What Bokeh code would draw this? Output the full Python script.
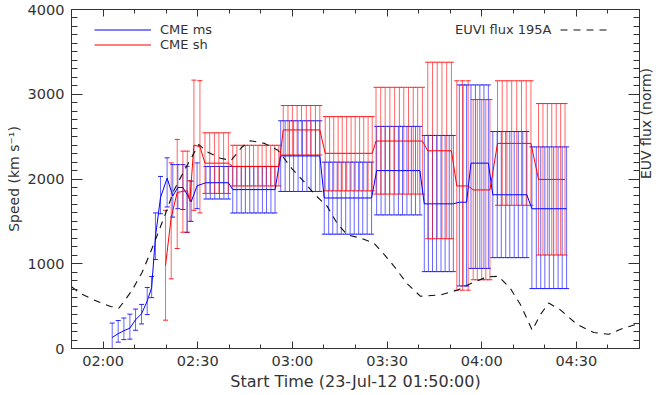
import math
from bokeh.plotting import figure
from bokeh.models import (Range1d, LinearAxis, FixedTicker, SingleIntervalTicker,
                          Whisker, TeeHead, ColumnDataSource, Legend, LegendItem, Label)
from bokeh.embed import file_html
from bokeh.resources import INLINE

# ---------------- data (time in minutes after 23-Jul-12 01:50:00) ----------------
tick_times = [10, 40, 70, 100, 130, 160]
tick_labels = ["02:00", "02:30", "03:00", "03:30", "04:00", "04:30"]
minor_times = [0, 20, 30, 50, 60, 80, 90, 110, 120, 140, 150, 170, 180]
flux_ticks = [0, 0.25, 0.5, 0.75, 1.0]

# CME ms (blue) - individual early measurements
ms_early_t = [12.9, 14.8, 16.6, 18.5, 20.3, 22.2, 24.0, 25.4, 26.6, 28.2, 30.3, 32.1, 33.7, 35.3, 36.6, 37.9, 39.8]
ms_early_v = [130, 175, 210, 240, 340, 410, 560, 720, 1320, 1780, 2010, 1800, 1900, 1900, 1820, 1730, 1920]
ms_early_lo = [-40, 75, 105, 110, 215, 290, 400, 600, 1050, 1590, 1670, 1550, 1650, 1640, 1370, 1500, 1650]
ms_early_hi = [300, 330, 360, 405, 465, 520, 720, 850, 1600, 2030, 2250, 2170, 2170, 2170, 2150, 1975, 2190]

# CME ms (blue) - plateau segments: sample times, value, lower, upper
ms_seg_t = [
    [42.6, 44.0, 45.4, 46.9, 48.3, 49.7],
    [51.1, 52.4, 53.8, 55.1, 56.5, 57.8, 59.1, 60.5, 61.8, 63.2, 64.5],
    [66.3, 67.7, 69.1, 70.4, 71.8, 73.2, 74.6, 75.9, 77.3, 78.7],
    [80.1, 81.5, 82.8, 84.2, 85.5, 86.9, 88.3, 89.6, 91.0, 92.3, 93.7, 95.1],
    [96.7, 98.1, 99.4, 100.8, 102.2, 103.6, 104.9, 106.3, 107.7, 109.0, 110.4],
    [111.8, 113.1, 114.4, 115.7, 117.1, 118.4, 119.7, 121.0],
    [122.9, 124.1, 125.2],
    [126.6, 128.0, 129.4, 130.7, 132.1],
    [133.5, 134.9, 136.2, 137.6, 138.9, 140.3, 141.6, 143.0, 144.3],
    [145.9, 147.3, 148.7, 150.0, 151.4, 152.8, 154.2, 155.5, 156.9],
]
ms_seg_v = [1956, 1875, 2272, 1776, 2099, 1707, 1726, 2187, 1814, 1649]
ms_seg_lo = [1764, 1599, 1853, 1349, 1576, 907, 738, 945, 1072, 707]
ms_seg_hi = [2148, 2148, 2687, 2199, 2621, 2514, 3110, 3110, 2560, 2379]

# CME sh (red) - individual early measurements
sh_early_t = [29.8, 31.6, 33.5, 35.3, 36.7, 37.5, 38.8, 40.7]
sh_early_v = [980, 1550, 1840, 1855, 1860, 1740, 2400, 2380]
sh_early_lo = [334, 822, 1180, 1372, 1372, 1500, 1630, 1600]
sh_early_hi = [1630, 2190, 2467, 2329, 2329, 1980, 3167, 3160]

# CME sh (red) - plateau segments
sh_seg_t = [
    [42.3, 43.8, 45.3, 46.7, 48.2, 49.7],
    [51.1, 52.4, 53.8, 55.1, 56.4, 57.7, 59.1, 60.4, 61.7, 63.1, 64.4, 65.7],
    [67.1, 68.6, 70.0, 71.5, 72.9, 74.4, 75.8, 77.3, 78.7],
    [80.4, 81.8, 83.1, 84.5, 85.8, 87.2, 88.6, 89.9, 91.3, 92.6, 94.0, 95.3],
    [96.5, 98.0, 99.4, 100.9, 102.4, 103.9, 105.3, 106.8, 108.3, 109.7, 111.2],
    [112.9, 114.4, 115.9, 117.4, 118.9, 120.4],
    [122.1, 123.9, 125.7],
    [127.3, 128.6, 130.0, 131.3, 132.6],
    [135.0, 136.5, 138.0, 139.5, 141.1, 142.6, 144.1, 145.6],
    [148.0, 149.4, 150.8, 152.2, 153.6, 155.0, 156.4],
]
sh_seg_v = [2187, 2148, 2579, 2303, 2448, 2333, 1918, 1871, 2420, 1995]
sh_seg_lo = [1830, 1918, 2283, 1860, 1822, 1295, 688, 811, 1690, 1103]
sh_seg_hi = [2545, 2398, 2867, 2736, 3082, 3378, 3159, 2937, 3159, 2890]

# EUVI 195A flux (normalised)
euv_t = [0.0, 2.9, 7.1, 12.4, 15.0, 16.6, 19.2, 22.4, 25.0, 27.2, 29.8, 32.4, 35.6, 38.2,
         40.3, 43.0, 47.2, 50.6, 53.9, 56.7, 61.2, 65.4, 69.9, 73.6, 77.0, 81.0, 84.2,
         87.4, 91.6, 95.8, 98.4, 102.1, 106.4, 110.6, 116.9, 122.2, 127.5, 131.7, 135.3,
         139.1, 142.3, 146.0, 148.6, 151.2, 154.9, 160.2, 165.5, 170.3, 174.0, 179.5]
euv_v = [0.182, 0.162, 0.143, 0.124, 0.119, 0.138, 0.172, 0.225, 0.283, 0.335, 0.398, 0.465,
         0.523, 0.566, 0.602, 0.580, 0.561, 0.555, 0.593, 0.613, 0.605, 0.585, 0.530, 0.493,
         0.455, 0.420, 0.369, 0.335, 0.326, 0.311, 0.285, 0.244, 0.191, 0.154, 0.158, 0.172,
         0.196, 0.211, 0.213, 0.177, 0.129, 0.054, 0.100, 0.134, 0.114, 0.071, 0.047, 0.042,
         0.057, 0.073]


def build(early_t, early_v, early_lo, early_hi, seg_t, seg_v, seg_lo, seg_hi):
    t, v, lo, hi = list(early_t), list(early_v), list(early_lo), list(early_hi)
    for ts, sv, sl, su in zip(seg_t, seg_v, seg_lo, seg_hi):
        t += ts
        v += [sv] * len(ts)
        lo += [sl] * len(ts)
        hi += [su] * len(ts)
    return ColumnDataSource(dict(t=t, v=v, lo=lo, hi=hi))


ms_src = build(ms_early_t, ms_early_v, ms_early_lo, ms_early_hi, ms_seg_t, ms_seg_v, ms_seg_lo, ms_seg_hi)
sh_src = build(sh_early_t, sh_early_v, sh_early_lo, sh_early_hi, sh_seg_t, sh_seg_v, sh_seg_lo, sh_seg_hi)

FONT = "DejaVu Sans"
TXT = "#333333"
BLUE = "#0000ff"
RED = "#ff0000"

W, H = 665, 395
BL, BR, BT, BB = 71, 26, 9, 47
FW, FH = W - BL - BR, H - BT - BB

p = figure(width=W, height=H, output_backend="svg", toolbar_location=None,
           x_range=Range1d(0, 180), y_range=Range1d(0, 4000),
           min_border_left=BL, min_border_right=BR, min_border_top=BT, min_border_bottom=BB,
           x_axis_label="Start Time (23-Jul-12 01:50:00)", y_axis_label="Speed (km s\u207b\u00b9)")
p.extra_y_ranges = {"euv": Range1d(0, 1)}
p.grid.visible = False
p.outline_line_color = None
p.background_fill_color = "white"
p.border_fill_color = "white"


def style(ax, tin, mtin):
    ax.major_tick_in = tin
    ax.major_tick_out = 0
    ax.minor_tick_in = mtin
    ax.minor_tick_out = 0
    ax.axis_line_color = TXT
    ax.major_tick_line_color = TXT
    ax.minor_tick_line_color = TXT
    ax.major_label_text_font = FONT
    ax.major_label_text_font_size = "14.5px"
    ax.major_label_text_color = TXT
    ax.axis_label_text_font = FONT
    ax.axis_label_text_font_size = "14px"
    ax.axis_label_text_font_style = "normal"
    ax.axis_label_text_color = TXT


xa = p.xaxis[0]
xa.ticker = FixedTicker(ticks=tick_times, minor_ticks=minor_times)
xa.major_label_overrides = {k: s for k, s in zip(tick_times, tick_labels)}
style(xa, 7, 4)
xa.axis_label_text_font_size = "16px"
xa.major_label_standoff = 4
xa.axis_label_standoff = 0

ya = p.yaxis[0]
ya.ticker = SingleIntervalTicker(interval=1000, num_minor_ticks=10)
style(ya, 11, 6)
ya.major_label_standoff = 7
ya.axis_label_standoff = 3

top = LinearAxis(ticker=FixedTicker(ticks=tick_times, minor_ticks=minor_times))
style(top, 7, 4)
top.major_label_overrides = {k: "" for k in tick_times}
top.major_label_standoff = 0
p.add_layout(top, "above")

right = LinearAxis(y_range_name="euv",
                   ticker=SingleIntervalTicker(interval=0.25, num_minor_ticks=10),
                   axis_label="EUV flux (norm)")
style(right, 11, 6)
right.major_label_overrides = {k: "" for k in flux_ticks}
right.major_label_standoff = 0
right.axis_label_standoff = 6
right.axis_label_text_align = "center"
right.axis_label_text_baseline = "middle"
if "axis_label_orientation" in right.properties():
    right.axis_label_orientation = math.pi / 2
p.add_layout(right, "right")

# error bars
for src, col in ((ms_src, BLUE), (sh_src, RED)):
    w = Whisker(source=src, base="t", upper="hi", lower="lo", dimension="height",
                line_color=col, line_alpha=0.6, line_width=1,
                upper_head=TeeHead(size=5, line_color=col, line_alpha=0.85, line_width=1),
                lower_head=TeeHead(size=5, line_color=col, line_alpha=0.85, line_width=1))
    p.add_layout(w)

ms_line = p.line("t", "v", source=ms_src, line_color=BLUE, line_width=1)
sh_line = p.line("t", "v", source=sh_src, line_color=RED, line_width=1)
euv_line = p.line(euv_t, euv_v, y_range_name="euv", line_color="#111111", line_width=1.1,
                  line_dash="7 6")

ROW1 = 29 - BT  # px below frame top of first legend row
leg = Legend(items=[LegendItem(label="CME ms", renderers=[ms_line]),
                    LegendItem(label="CME sh", renderers=[sh_line])],
             location=(23, FH - ROW1 - 7.5 - 15), padding=0, margin=0, spacing=0,
             glyph_width=57, glyph_height=15, label_height=15, label_standoff=9,
             label_text_font=FONT, label_text_font_size="13px", label_text_color=TXT,
             border_line_alpha=0, background_fill_alpha=0)
p.add_layout(leg)

leg2 = Legend(items=[LegendItem(label=" ", renderers=[euv_line])],
              location=(489, FH - ROW1 - 7.5), padding=0, margin=0, spacing=0,
              glyph_width=51, glyph_height=15, label_height=15, label_standoff=0,
              label_text_font=FONT, label_text_font_size="13px",
              border_line_alpha=0, background_fill_alpha=0)
p.add_layout(leg2)

lab = Label(x=480, y=FH - ROW1, x_units="screen", y_units="screen", text="EUVI flux 195A",
            text_align="right", text_baseline="middle", text_font=FONT,
            text_font_size="13px", text_color=TXT)
p.add_layout(lab)

open("out.html", "w").write(file_html(p, INLINE))
